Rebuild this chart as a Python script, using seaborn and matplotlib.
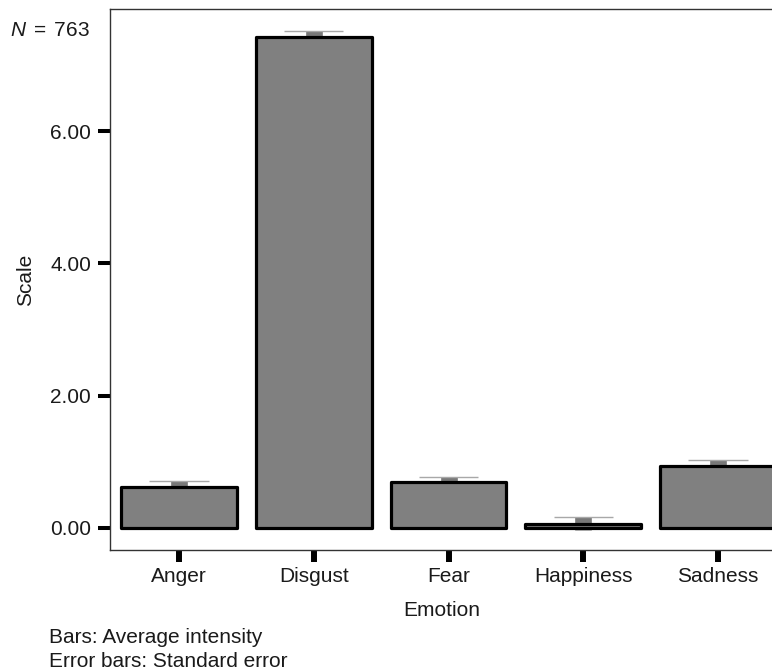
import matplotlib
matplotlib.use("Agg")
import matplotlib.pyplot as plt
import seaborn as sns
import pandas as pd

emotions = ["Anger", "Disgust", "Fear", "Happiness", "Sadness"]
means = [0.61, 7.43, 0.69, 0.06, 0.93]
se = [0.09, 0.09, 0.08, 0.10, 0.09]
yticks = [0.0, 2.0, 4.0, 6.0]
ytick_labels = ["0.00", "2.00", "4.00", "6.00"]
n_label = r"$N\;=\;763$"
footnote = ["Bars: Average intensity", "Error bars: Standard error"]

sns.set_theme(style="white")
plt.rcParams["font.family"] = ["Liberation Sans", "DejaVu Sans"]
plt.rcParams["mathtext.fontset"] = "custom"
plt.rcParams["mathtext.it"] = "Liberation Sans:italic"
plt.rcParams["mathtext.rm"] = "Liberation Sans"

df = pd.DataFrame({"Emotion": emotions, "Scale": means})

FS = 15
TXT = "#1a1a1a"
W, H = 772, 672
fig = plt.figure(figsize=(W / 100, H / 100), dpi=100)
left_px, right_px, top_px, bot_px = 110, 787, 9, 550
ax = fig.add_axes([left_px / W, 1 - bot_px / H, (right_px - left_px) / W, (bot_px - top_px) / H])

# error segments (behind bars)
xs = list(range(len(emotions)))
lows = [m - s for m, s in zip(means, se)]
highs = [m + s for m, s in zip(means, se)]
ax.vlines(xs, lows, highs, colors="#787878", linewidth=12, zorder=1)
ax.hlines(highs, [x - 0.22 for x in xs], [x + 0.22 for x in xs], colors="#a8a8a8", linewidth=1.0, zorder=1)

sns.barplot(data=df, x="Emotion", y="Scale", color="#808080", saturation=1,
            width=0.86, edgecolor="black", linewidth=2.3, errorbar=None, ax=ax, zorder=2)
for p in ax.patches:
    p.set_joinstyle("round")
    p.set_facecolor("#808080")

ax.set_xlim(-0.512, 4.512)
ax.set_ylim(-0.3375, 7.85)
ax.set_yticks(yticks)
ax.set_yticklabels(ytick_labels)

for s in ax.spines.values():
    s.set_color("#333333")
    s.set_linewidth(1.0)

ax.tick_params(axis="y", direction="out", length=8.6, width=2.9, color="black",
               labelsize=FS, pad=5, labelcolor=TXT, left=True)
ax.tick_params(axis="x", direction="out", length=8.6, width=4.3, color="black",
               labelsize=FS, pad=4, labelcolor=TXT, bottom=True)

ax.set_xlabel("Emotion", fontsize=FS, color=TXT)
ax.set_ylabel("Scale", fontsize=FS, color=TXT)
axw = right_px - left_px
axh = bot_px - top_px
ax.xaxis.set_label_coords((441.5 - left_px) / axw, (bot_px - 601) / axh)
ax.yaxis.set_label_coords((35 - left_px) / axw, 0.5)

fig.text(90 / W, 1 - 36 / H, n_label, ha="right", va="baseline", fontsize=FS, color=TXT)
fig.text(49 / W, 1 - 642.7 / H, footnote[0], ha="left", va="baseline", fontsize=FS, color=TXT)
fig.text(49 / W, 1 - 667 / H, footnote[1], ha="left", va="baseline", fontsize=FS, color=TXT)

fig.savefig("out.png", dpi=100)
